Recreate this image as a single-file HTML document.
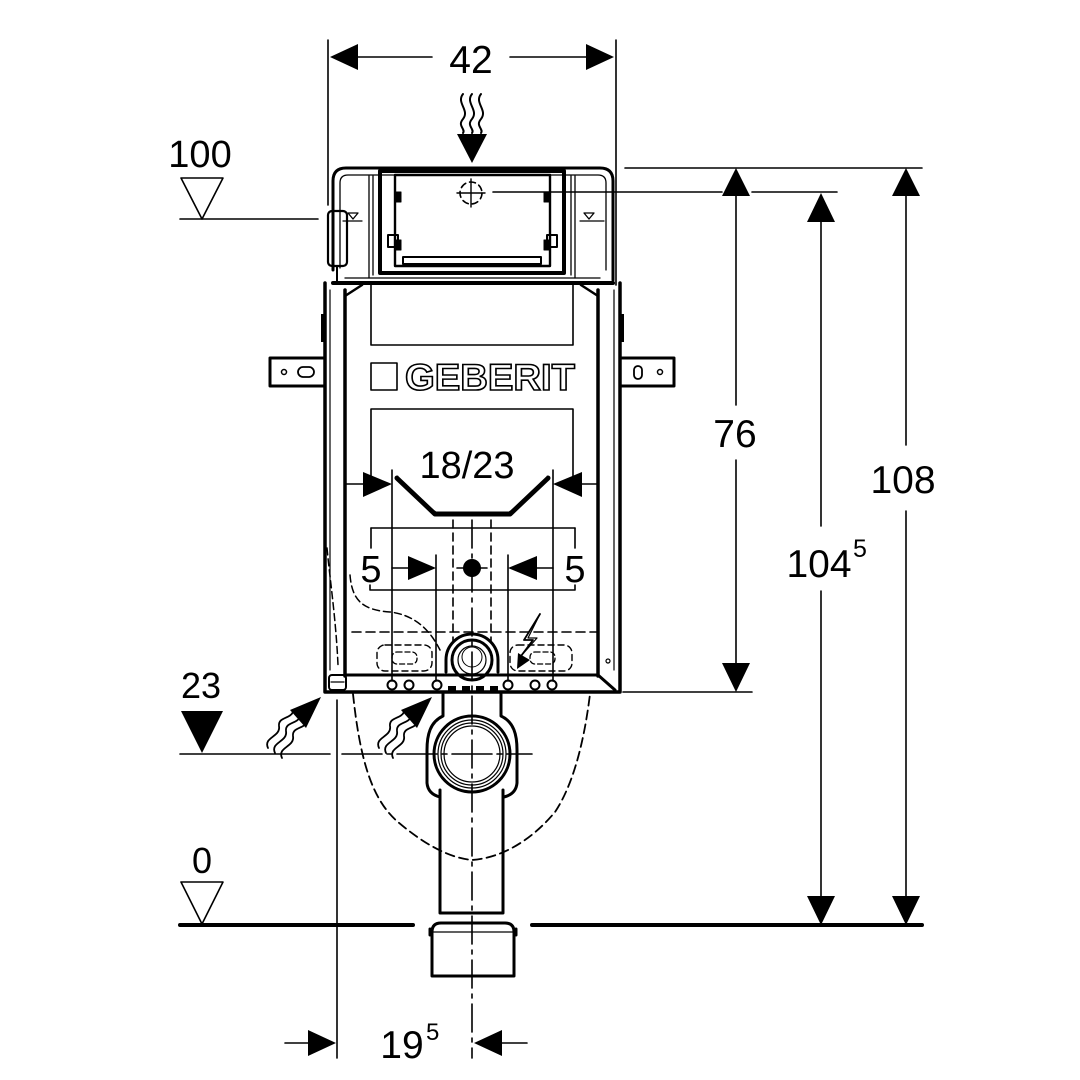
<!DOCTYPE html>
<html><head><meta charset="utf-8"><style>
html,body{margin:0;padding:0;background:#fff;}
svg{display:block;}
text{font-family:"Liberation Sans",sans-serif;fill:#000;}
</style></head><body>
<svg width="1080" height="1080" viewBox="0 0 1080 1080" xmlns="http://www.w3.org/2000/svg">
<rect width="1080" height="1080" fill="#fff"/>
<g fill="none" stroke="#000" stroke-linecap="round" stroke-linejoin="round">

<!-- ===== Top dimension 42 ===== -->
<line x1="328" y1="40" x2="328" y2="205" stroke-width="1.6"/>
<line x1="616" y1="40" x2="616" y2="285" stroke-width="1.6"/>
<line x1="358" y1="57" x2="432" y2="57" stroke-width="1.6"/>
<line x1="510" y1="57" x2="586" y2="57" stroke-width="1.6"/>
<polygon points="330,57 358,44 358,70" fill="#000" stroke="none"/>
<polygon points="614,57 586,44 586,70" fill="#000" stroke="none"/>

<!-- flush wavy arrow -->
<path d="M463,94 C456,103 470,110 463,119 C457,126 466,129 463,133" stroke-width="2"/>
<path d="M472,94 C465,103 479,110 472,119 C466,126 475,129 472,133" stroke-width="2"/>
<path d="M481,94 C474,103 488,110 481,119 C475,126 484,129 481,133" stroke-width="2"/>
<polygon points="457,134 487,134 472,163" fill="#000" stroke="none"/>

<!-- ===== Cistern ===== -->
<path d="M333,270 L333,181 Q333,168 346,168 L600,168 Q613,168 613,181 L613,280" stroke-width="3"/>
<path d="M340,268 L340,183 Q340,175 348,175 L598,175 Q606,175 606,183 L606,270" stroke-width="1.3"/>
<line x1="369" y1="176" x2="369" y2="278" stroke-width="1.3"/>
<line x1="373" y1="176" x2="373" y2="275" stroke-width="1.3"/>
<line x1="571" y1="176" x2="571" y2="275" stroke-width="1.3"/>
<line x1="575" y1="176" x2="575" y2="278" stroke-width="1.3"/>
<rect x="380" y="171" width="184" height="102" stroke-width="4"/>
<rect x="395" y="175" width="155" height="91" stroke-width="2.4"/>
<rect x="403" y="257" width="138" height="7" stroke-width="2"/>
<rect x="395" y="192" width="6" height="10" fill="#000" stroke-width="1"/>
<rect x="388" y="235" width="10" height="12" stroke-width="2"/>
<rect x="395" y="240" width="6" height="10" fill="#000" stroke-width="1"/>
<rect x="544" y="192" width="6" height="10" fill="#000" stroke-width="1"/>
<rect x="547" y="235" width="10" height="12" stroke-width="2"/>
<rect x="544" y="240" width="6" height="10" fill="#000" stroke-width="1"/>
<line x1="333" y1="283" x2="613" y2="283" stroke-width="4"/>
<line x1="345" y1="278" x2="600" y2="278" stroke-width="1.3"/>
<!-- float left -->
<rect x="328" y="211" width="19" height="55" rx="4" stroke-width="2.2"/>
<line x1="337" y1="266" x2="337" y2="283" stroke-width="2"/>
<!-- level markers inside -->
<path d="M348,213 L358,213 L353,219 Z" stroke-width="1.3"/>
<line x1="343" y1="221" x2="362" y2="221" stroke-width="1.2"/>
<path d="M584,213 L594,213 L589,219 Z" stroke-width="1.3"/>
<line x1="580" y1="221" x2="604" y2="221" stroke-width="1.2"/>
<!-- crosshair -->
<circle cx="471" cy="193" r="11" stroke-width="1.6" stroke-dasharray="6 4"/>
<line x1="471" y1="179" x2="471" y2="207" stroke-width="1.4"/>
<line x1="457" y1="193" x2="485" y2="193" stroke-width="1.4"/>

<!-- ===== Level 100 ===== -->
<polygon points="181,178 223,178 202,219" stroke-width="1.6"/>
<line x1="180" y1="219" x2="318" y2="219" stroke-width="1.6"/>

<!-- ===== Frame ===== -->
<path d="M325,283 L325,692 L620,692 L620,283" stroke-width="3.5"/>
<line x1="345" y1="290" x2="345" y2="676" stroke-width="3.5"/>
<line x1="598" y1="290" x2="598" y2="676" stroke-width="3.5"/>
<line x1="330" y1="290" x2="330" y2="670" stroke-width="1.2"/>
<line x1="614" y1="290" x2="614" y2="670" stroke-width="1.2"/>
<line x1="345" y1="296" x2="362" y2="285" stroke-width="2.5"/>
<line x1="598" y1="296" x2="581" y2="285" stroke-width="2.5"/>
<line x1="345" y1="675" x2="598" y2="675" stroke-width="3"/>
<line x1="598" y1="675" x2="615" y2="690" stroke-width="3"/>
<rect x="329" y="675" width="17" height="15" rx="3" stroke-width="2"/>
<line x1="331" y1="682" x2="344" y2="682" stroke-width="1.2"/>
<rect x="321" y="314" width="4" height="28" fill="#000" stroke="none"/>
<rect x="620" y="314" width="4" height="28" fill="#000" stroke="none"/>
<!-- brackets -->
<rect x="270" y="358" width="55" height="28" stroke-width="3"/>
<circle cx="284" cy="372" r="2.5" stroke-width="1.5"/>
<rect x="298" y="367" width="16" height="10" rx="5" stroke-width="1.8"/>
<rect x="620" y="358" width="54" height="28" stroke-width="3"/>
<rect x="634" y="366" width="8" height="13" rx="4" stroke-width="1.8"/>
<circle cx="660" cy="372" r="2.5" stroke-width="1.5"/>
<!-- panels -->
<path d="M371,283 L371,345 L573,345 L573,283" stroke-width="1.6"/>
<rect x="371" y="363" width="26" height="27" stroke-width="1.6"/>
<path d="M371,478 L371,409 L573,409 L573,478" stroke-width="1.6"/>
<path d="M371,548 L371,528 M575,528 L575,548 M575,585 L575,590 L370,590 L370,585" stroke-width="1.6"/>
<line x1="371" y1="528" x2="575" y2="528" stroke-width="1.6"/>

<!-- V bracket -->
<path d="M397,478 L435,514 L510,514 L548,478" stroke-width="5"/>
<path d="M399,476 L435,510 L510,510 L546,476" stroke="#fff" stroke-width="1.2"/>

<!-- dashed internals -->
<line x1="453" y1="520" x2="453" y2="642" stroke-width="1.6" stroke-dasharray="8 5"/>
<line x1="491" y1="520" x2="491" y2="642" stroke-width="1.6" stroke-dasharray="8 5"/>
<line x1="352" y1="632" x2="598" y2="632" stroke-width="1.6" stroke-dasharray="9 5"/>
<path d="M327,548 C330,580 336,620 338,665" stroke-width="1.5" stroke-dasharray="7 4"/>
<path d="M350,575 C352,600 362,610 390,612 C415,615 430,630 440,650" stroke-width="1.5" stroke-dasharray="7 4"/>
<rect x="377" y="645" width="55" height="26" rx="8" stroke-width="1.4" stroke-dasharray="6 4"/>
<rect x="392" y="652" width="25" height="12" rx="5" stroke-width="1.3" stroke-dasharray="5 3"/>
<rect x="510" y="645" width="62" height="26" rx="8" stroke-width="1.4" stroke-dasharray="6 4"/>
<rect x="530" y="652" width="25" height="12" rx="5" stroke-width="1.3" stroke-dasharray="5 3"/>
<circle cx="608" cy="661" r="2" stroke-width="1.2"/>

<!-- pipe connection -->
<path d="M446,672 L446,660 A26,26 0 0 1 498,660 L498,672" stroke-width="3"/>
<circle cx="472" cy="660" r="20" stroke-width="3"/>
<circle cx="472" cy="660" r="14" stroke-width="1.2"/>
<circle cx="472" cy="657" r="10" stroke-width="1"/>

<!-- bottom bar circles -->
<g stroke-width="2">
<circle cx="392" cy="685" r="4.5"/><circle cx="409" cy="685" r="4.5"/><circle cx="437" cy="685" r="4.5"/>
<circle cx="508" cy="685" r="4.5"/><circle cx="535" cy="685" r="4.5"/><circle cx="552" cy="685" r="4.5"/>
</g>
<rect x="448" y="686" width="8" height="6" fill="#000" stroke="none"/>
<rect x="462" y="686" width="8" height="6" fill="#000" stroke="none"/>
<rect x="476" y="686" width="8" height="6" fill="#000" stroke="none"/>
<rect x="490" y="686" width="8" height="6" fill="#000" stroke="none"/>

<!-- 18/23 dimension -->
<line x1="345" y1="484" x2="363" y2="484" stroke-width="1.6"/>
<polygon points="392,484 363,472 363,497" fill="#000" stroke="none"/>
<line x1="582" y1="484" x2="598" y2="484" stroke-width="1.6"/>
<polygon points="553,484 582,472 582,497" fill="#000" stroke="none"/>
<line x1="392" y1="470" x2="392" y2="681" stroke-width="1.6"/>
<line x1="553" y1="470" x2="553" y2="681" stroke-width="1.6"/>

<!-- 5 dimensions -->
<line x1="392" y1="568" x2="408" y2="568" stroke-width="1.6"/>
<polygon points="436,568 408,556 408,580" fill="#000" stroke="none"/>
<line x1="537" y1="568" x2="553" y2="568" stroke-width="1.6"/>
<polygon points="508,568 537,556 537,580" fill="#000" stroke="none"/>
<line x1="436" y1="555" x2="436" y2="681" stroke-width="1.6"/>
<line x1="508" y1="555" x2="508" y2="681" stroke-width="1.6"/>
<circle cx="472" cy="568" r="9" fill="#000" stroke="none"/>
<line x1="457" y1="568" x2="487" y2="568" stroke-width="1.6"/>

<!-- lightning -->
<path d="M540,614 L524,640 L533,640 L521,656" stroke-width="1.8"/>
<path d="M540,614 L528,638 L537,638 L521,656" stroke-width="1.2"/>
<polygon points="517,669 518,653 530,660" fill="#000" stroke="none"/>

<!-- ===== Centerline ===== -->
<line x1="472" y1="520" x2="472" y2="1058" stroke-width="1.6" stroke-dasharray="28 6 4 6"/>

<!-- ===== Drain below ===== -->
<path d="M443,694 L443,716 C430,722 427,735 427,750 L427,783 Q428,794 440,797" stroke-width="3"/>
<path d="M501,694 L501,716 C514,722 517,735 517,750 L517,783 Q516,794 504,797" stroke-width="3"/>
<circle cx="472" cy="754" r="38" stroke-width="3"/>
<circle cx="472" cy="754" r="34" stroke-width="1.2"/>
<circle cx="472" cy="754" r="31" stroke-width="1.2"/>
<circle cx="472" cy="754" r="28" stroke-width="1.2"/>
<path d="M440,790 L440,913 L503,913 L503,790" stroke-width="3"/>
<path d="M432,976 L432,932 Q432,923 441,923 L505,923 Q514,923 514,932 L514,976 Z" stroke-width="3"/>
<line x1="430" y1="932" x2="516" y2="932" stroke-width="1.2"/>
<line x1="430" y1="929" x2="430" y2="935" stroke-width="3"/>
<line x1="516" y1="929" x2="516" y2="935" stroke-width="3"/>

<!-- dashed WC bowl -->
<path d="M353,694 C360,760 372,800 398,822 C425,845 450,858 472,860 C500,858 530,842 555,812 C575,782 585,735 590,694" stroke-width="1.8" stroke-dasharray="9 5"/>

<!-- ===== Level 23 ===== -->
<polygon points="181,711 223,711 202,753" fill="#000" stroke="none"/>
<line x1="180" y1="754" x2="330" y2="754" stroke-width="1.6"/>
<line x1="342" y1="754" x2="532" y2="754" stroke-width="1.6" stroke-dasharray="40 5 5 5"/>
<!-- heat arrows -->
<g stroke-width="1.8">
<path d="M268,748 C263,737 281,737 279,726 C278,717 290,719 293,712"/>
<path d="M275,753 C270,742 288,742 286,731 C285,722 297,724 300,717"/>
<path d="M282,758 C277,747 295,747 293,736 C292,727 304,729 307,722"/>
<path d="M379,748 C374,737 392,737 390,726 C389,717 401,719 404,712"/>
<path d="M386,753 C381,742 399,742 397,731 C396,722 408,724 411,717"/>
<path d="M393,758 C388,747 406,747 404,736 C403,727 415,729 418,722"/>
</g>
<polygon points="321,697 290,710 306,728" fill="#000" stroke="none"/>
<polygon points="432,697 401,710 417,728" fill="#000" stroke="none"/>

<!-- ===== Level 0 & floor ===== -->
<polygon points="181,882 223,882 202,924" stroke-width="1.6"/>
<line x1="180" y1="925" x2="413" y2="925" stroke-width="4"/>
<line x1="532" y1="925" x2="922" y2="925" stroke-width="4"/>

<!-- ===== Bottom 19.5 dim ===== -->
<line x1="337" y1="700" x2="337" y2="1058" stroke-width="1.6"/>
<line x1="285" y1="1043" x2="308" y2="1043" stroke-width="1.6"/>
<polygon points="336,1043 308,1030 308,1056" fill="#000" stroke="none"/>
<line x1="502" y1="1043" x2="527" y2="1043" stroke-width="1.6"/>
<polygon points="474,1043 502,1030 502,1056" fill="#000" stroke="none"/>

<!-- ===== Right dims ===== -->
<line x1="625" y1="168" x2="922" y2="168" stroke-width="1.6"/>
<line x1="493" y1="192" x2="722" y2="192" stroke-width="1.6"/>
<line x1="752" y1="192" x2="837" y2="192" stroke-width="1.6"/>
<line x1="623" y1="692" x2="752" y2="692" stroke-width="1.6"/>
<!-- 76 -->
<polygon points="736,168 722,196 750,196" fill="#000" stroke="none"/>
<line x1="736" y1="196" x2="736" y2="405" stroke-width="1.6"/>
<line x1="736" y1="460" x2="736" y2="663" stroke-width="1.6"/>
<polygon points="736,692 722,663 750,663" fill="#000" stroke="none"/>
<!-- 104.5 -->
<polygon points="821,193 807,222 835,222" fill="#000" stroke="none"/>
<line x1="821" y1="222" x2="821" y2="526" stroke-width="1.6"/>
<line x1="821" y1="591" x2="821" y2="896" stroke-width="1.6"/>
<polygon points="821,925 807,896 835,896" fill="#000" stroke="none"/>
<!-- 108 -->
<polygon points="906,168 892,196 920,196" fill="#000" stroke="none"/>
<line x1="906" y1="196" x2="906" y2="445" stroke-width="1.6"/>
<line x1="906" y1="511" x2="906" y2="896" stroke-width="1.6"/>
<polygon points="906,925 892,896 920,896" fill="#000" stroke="none"/>
</g>

<!-- ===== Text ===== -->
<text x="471" y="73" font-size="39" text-anchor="middle">42</text>
<text x="200" y="167" font-size="38" text-anchor="middle">100</text>
<text x="735" y="447" font-size="39" text-anchor="middle">76</text>
<text x="903" y="493" font-size="39" text-anchor="middle">108</text>
<text x="819" y="577" font-size="39" text-anchor="middle">104</text>
<text x="853" y="557" font-size="25">5</text>
<text x="467" y="478" font-size="38" text-anchor="middle">18/23</text>
<text x="371" y="582" font-size="38" text-anchor="middle">5</text>
<text x="575" y="582" font-size="38" text-anchor="middle">5</text>
<text x="201" y="698" font-size="36" text-anchor="middle">23</text>
<text x="202" y="873" font-size="36" text-anchor="middle">0</text>
<text x="402" y="1058" font-size="39" text-anchor="middle">19</text>
<text x="426" y="1040" font-size="24">5</text>
<text x="405" y="390" font-size="37" font-weight="bold" textLength="170" lengthAdjust="spacingAndGlyphs" style="fill:#fff;stroke:#000;stroke-width:1.6">GEBERIT</text>
</svg>
</body></html>
